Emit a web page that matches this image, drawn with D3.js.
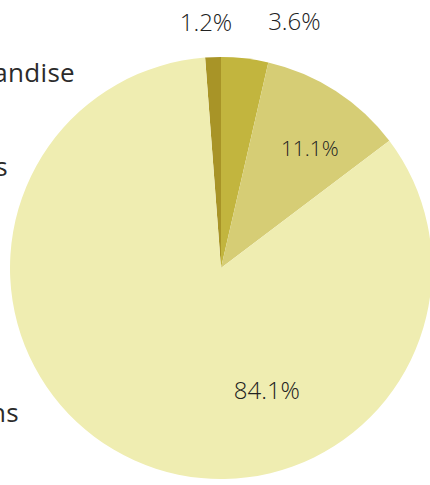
<!DOCTYPE html>
<html>
<head>
<meta charset="utf-8">
<script src="https://cdn.jsdelivr.net/npm/d3@7"></script>
<style>
  html, body { margin: 0; padding: 0; background: #fff; overflow: hidden; }
  text { font-family: "Open Sans", "Noto Sans", sans-serif; fill: #2b2b2b; }
</style>
</head>
<body>
<div id="field"></div>
<script>
'use strict';

// slices, clockwise from just left of the top
const categories = ['Merchandise', 'Sponsorships', 'Grants', 'Donations'];
const shares = [1.2, 3.6, 11.1, 84.1];
const colors = ['#a89427', '#c2b53e', '#d6cd75', '#efedb1'];
const labelText = ['1.2%', '3.6%', '11.1%', '84.1%'];

// category names on the left (cut off by the frame)
const sideNames = ['Merchandise', 'Grants', 'Donations'];

const w = 430, h = 485;
const cx = 221, cy = 268, r = 211;

const svg = d3.select('#field').append('svg').attr('width', w).attr('height', h);

const total = d3.sum(shares);
const start = -shares[0] / total * 2 * Math.PI;
const pie = d3.pie().sort(null).startAngle(start).endAngle(start + 2 * Math.PI);
const arc = d3.arc().innerRadius(0).outerRadius(r);

const g = svg.append('g').attr('transform', 'translate(' + cx + ',' + cy + ')');

const arcs = pie(shares);

g.selectAll('path').data(arcs).enter().append('path')
  .attr('d', arc)
  .attr('fill', function(d, i) { return colors[i]; });

// label placement: [angle in degrees from top, distance from centre, font size]
const place = [[-3.5, 246, 24], [16.6, 257, 24], [36.6, 149, 21], [159.5, 131, 24]];

g.selectAll('text.pct').data(arcs).enter().append('text')
  .attr('class', 'pct')
  .attr('x', function(d, i) { return Math.sin(place[i][0] * Math.PI / 180) * place[i][1]; })
  .attr('y', function(d, i) { return -Math.cos(place[i][0] * Math.PI / 180) * place[i][1]; })
  .attr('dy', '0.35em')
  .attr('text-anchor', 'middle')
  .attr('font-size', function(d, i) { return place[i][2] + 'px'; })
  .attr('font-weight', 300)
  .style('fill', '#222')
  .text(function(d, i) { return labelText[i]; });

// left side names, right ends visible only
const sidePos = [[75, 82], [8, 176], [19, 422]];
svg.selectAll('text.side').data(sideNames).enter().append('text')
  .attr('class', 'side')
  .attr('x', function(d, i) { return sidePos[i][0]; })
  .attr('y', function(d, i) { return sidePos[i][1]; })
  .attr('text-anchor', 'end')
  .attr('font-size', '26px')
  .attr('letter-spacing', '0.3px')
  .text(function(d) { return d; });
</script>
</body>
</html>
